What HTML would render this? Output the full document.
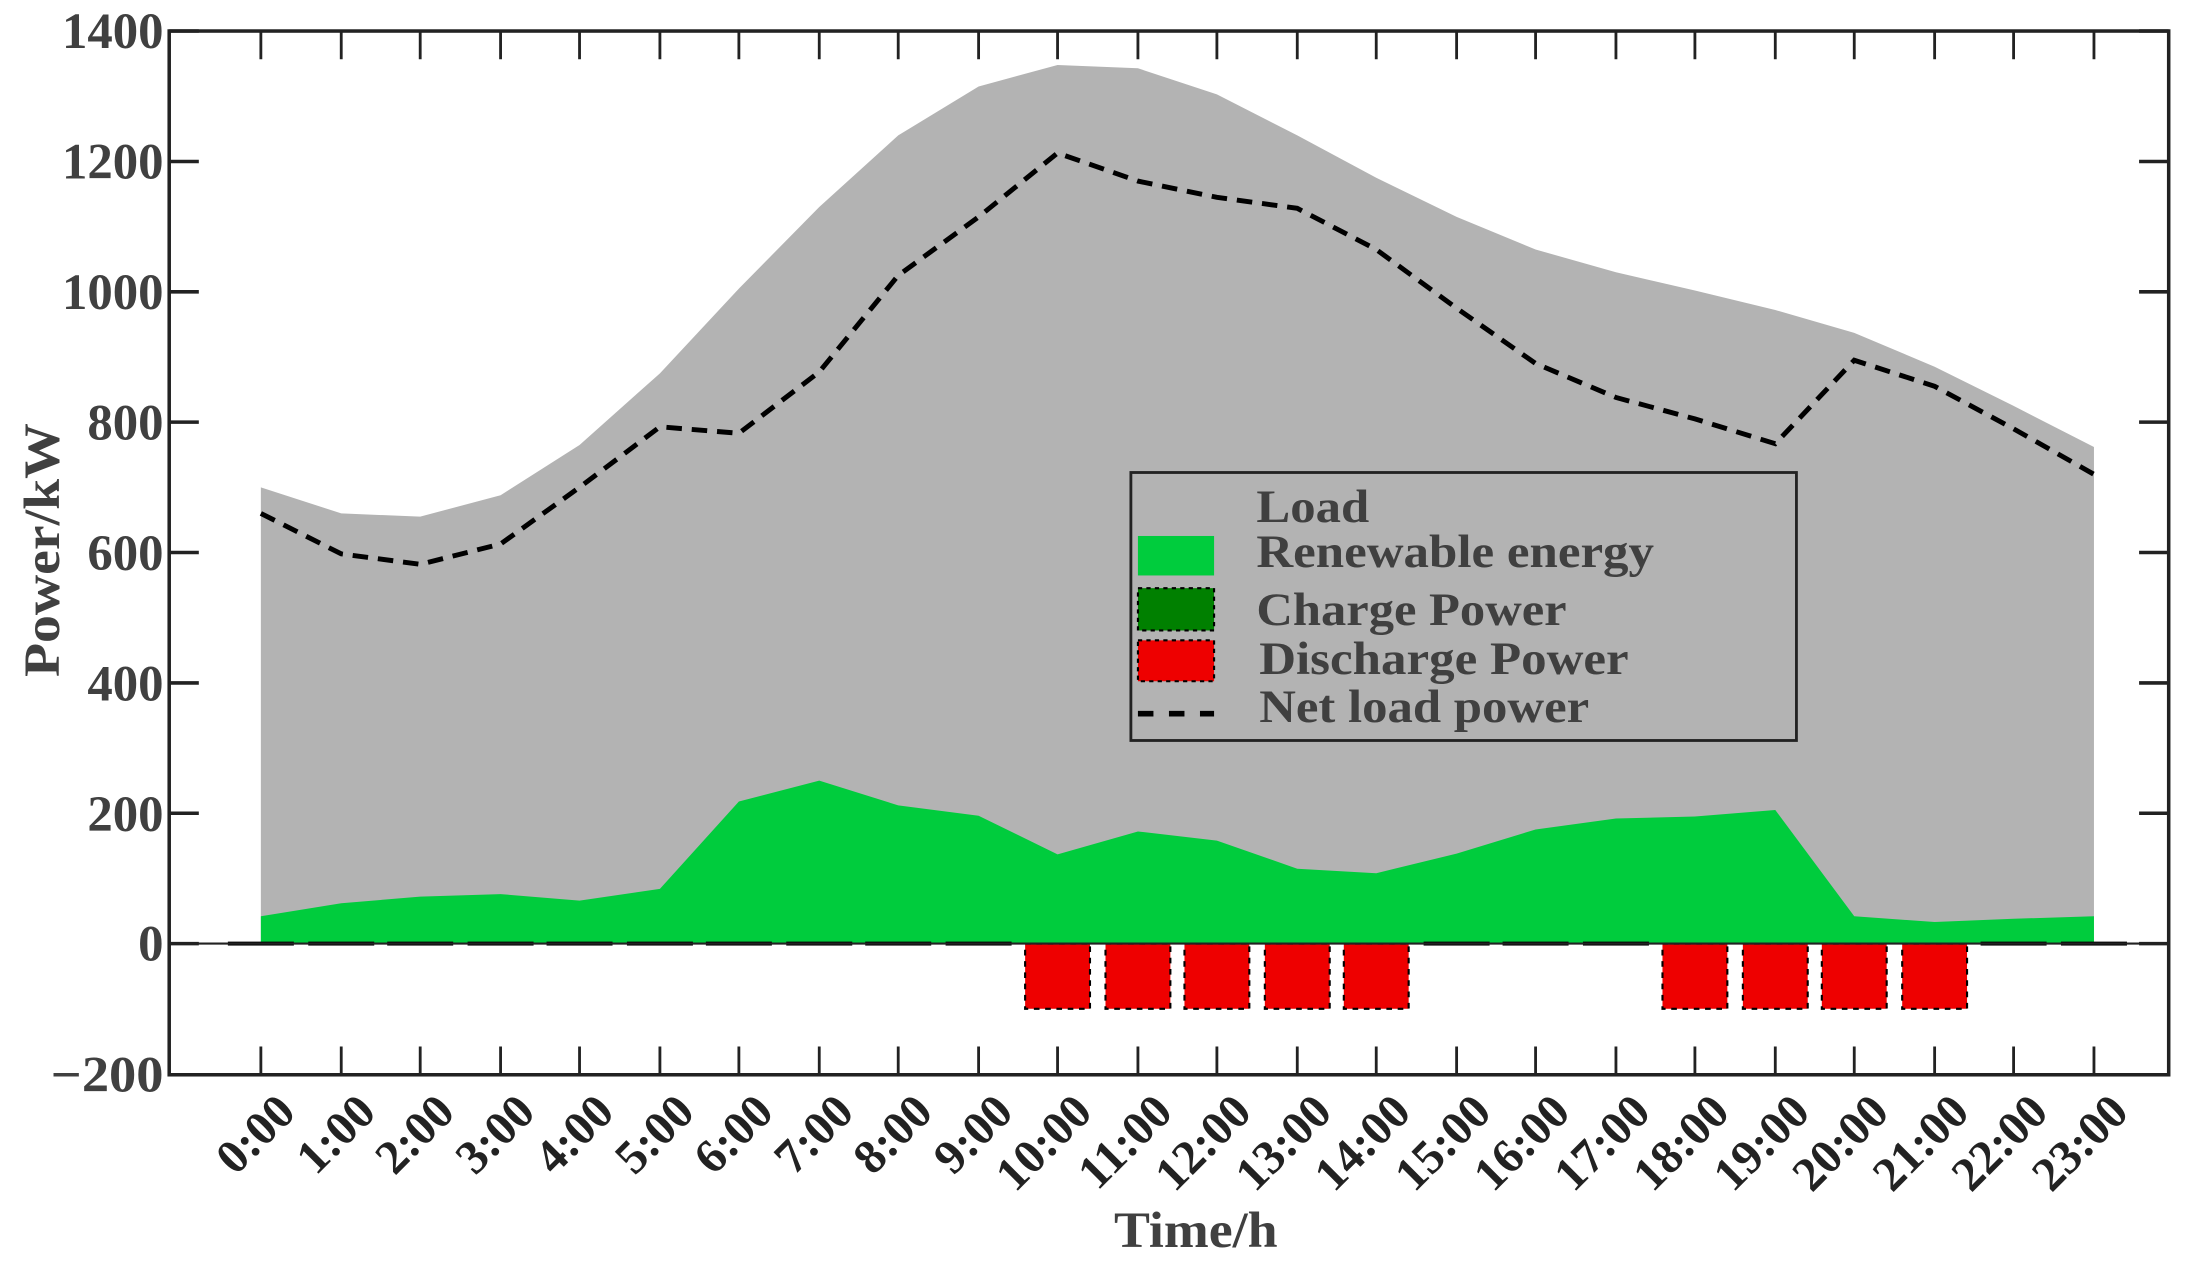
<!DOCTYPE html>
<html><head><meta charset="utf-8"><style>html,body{margin:0;padding:0;background:#fff}svg{display:block}</style></head>
<body>
<svg width="2211" height="1268" viewBox="0 0 1568 899" preserveAspectRatio="none" xmlns="http://www.w3.org/2000/svg" font-family="Liberation Serif, serif" font-weight="bold">
<rect width="1568" height="899" fill="#fff"/>
<polygon fill="#b3b3b3" points="185,669 185,345.5 242,364 298,366.3 355,351.1 411,315.5 468,264.7 524,204.6 581,146.8 637,96 694,61.3 750,46.1 807,48.4 863,66.9 920,96 976,126 1033,153.8 1089,176.9 1146,193 1202,206 1259,219.8 1315,236 1372,260 1428,287.8 1485,316.9 1485,669"/>
<polygon fill="#00cc3d" points="185,669 185,649.6 242,640.4 298,635.7 355,633.9 411,638.5 468,630.2 524,568.3 581,553.5 637,571 694,578.4 750,605.7 807,589.5 863,596 920,615.9 976,619.1 1033,605.2 1089,588.1 1146,580.3 1202,578.9 1259,574.3 1315,649.6 1372,653.7 1428,651.4 1485,649.6 1485,669"/>
<g fill="#008000" stroke="#000" stroke-width="0.8">
<rect x="162" y="668" width="46" height="2"/><rect x="219" y="668" width="46" height="2"/><rect x="275" y="668" width="46" height="2"/><rect x="332" y="668" width="46" height="2"/><rect x="388" y="668" width="46" height="2"/><rect x="445" y="668" width="46" height="2"/><rect x="501" y="668" width="46" height="2"/><rect x="558" y="668" width="46" height="2"/><rect x="614" y="668" width="46" height="2"/><rect x="671" y="668" width="46" height="2"/><rect x="1010" y="668" width="46" height="2"/><rect x="1066" y="668" width="46" height="2"/><rect x="1123" y="668" width="46" height="2"/><rect x="1405" y="668" width="46" height="2"/><rect x="1462" y="668" width="46" height="2"/>
</g>
<g fill="#ee0000" stroke="#000" stroke-width="1.5" stroke-dasharray="4 4">
<rect x="727" y="669" width="46" height="46.2"/><rect x="784" y="669" width="46" height="46.2"/><rect x="840" y="669" width="46" height="46.2"/><rect x="897" y="669" width="46" height="46.2"/><rect x="953" y="669" width="46" height="46.2"/><rect x="1179" y="669" width="46" height="46.2"/><rect x="1236" y="669" width="46" height="46.2"/><rect x="1292" y="669" width="46" height="46.2"/><rect x="1349" y="669" width="46" height="46.2"/>
</g>
<line x1="120" y1="669" x2="1538" y2="669" stroke="#222" stroke-width="1.5"/>
<polyline fill="none" stroke="#000" stroke-width="3.5" stroke-dasharray="11 7" points="185,364 242,392.7 298,400.1 355,385.7 411,345.5 468,302.6 524,307.2 581,263.7 637,195.3 694,153.8 750,108.5 807,128.4 863,139.9 920,147.7 976,176.9 1033,218.5 1089,257.7 1146,281.8 1202,297 1259,314.6 1315,255.4 1372,273.9 1428,304 1485,336.3"/>
<rect x="120" y="22" width="1418" height="740" fill="none" stroke="#222" stroke-width="2.5"/>
<g stroke="#222" stroke-width="2.5">
<path d="M120 762H141M120 669H141M120 576.6H141M120 484.2H141M120 391.7H141M120 299.3H141M120 206.9H141M120 114.5H141M120 22H141"/>
<path d="M1517 762H1538M1517 669H1538M1517 576.6H1538M1517 484.2H1538M1517 391.7H1538M1517 299.3H1538M1517 206.9H1538M1517 114.5H1538M1517 22H1538"/>
</g>
<g stroke="#222" stroke-width="2">
<path d="M185 762V742M242 762V742M298 762V742M355 762V742M411 762V742M468 762V742M524 762V742M581 762V742M637 762V742M694 762V742M750 762V742M807 762V742M863 762V742M920 762V742M976 762V742M1033 762V742M1089 762V742M1146 762V742M1202 762V742M1259 762V742M1315 762V742M1372 762V742M1428 762V742M1485 762V742"/>
<path d="M185 22V42M242 22V42M298 22V42M355 22V42M411 22V42M468 22V42M524 22V42M581 22V42M637 22V42M694 22V42M750 22V42M807 22V42M863 22V42M920 22V42M976 22V42M1033 22V42M1089 22V42M1146 22V42M1202 22V42M1259 22V42M1315 22V42M1372 22V42M1428 22V42M1485 22V42"/>
</g>
<g font-size="36" fill="#404040" text-anchor="end" lengthAdjust="spacingAndGlyphs">
<text x="116" y="774" textLength="80" lengthAdjust="spacingAndGlyphs">−200</text>
<text x="116" y="681" textLength="18" lengthAdjust="spacingAndGlyphs">0</text>
<text x="116" y="589" textLength="54" lengthAdjust="spacingAndGlyphs">200</text>
<text x="116" y="496.5" textLength="54" lengthAdjust="spacingAndGlyphs">400</text>
<text x="116" y="404" textLength="54" lengthAdjust="spacingAndGlyphs">600</text>
<text x="116" y="311.5" textLength="54" lengthAdjust="spacingAndGlyphs">800</text>
<text x="116" y="219" textLength="72" lengthAdjust="spacingAndGlyphs">1000</text>
<text x="116" y="126.5" textLength="72" lengthAdjust="spacingAndGlyphs">1200</text>
<text x="116" y="34" textLength="72" lengthAdjust="spacingAndGlyphs">1400</text>
</g>
<g font-size="34" fill="#222" text-anchor="end">
<text transform="translate(211,790) rotate(-45)">0:00</text>
<text transform="translate(268,790) rotate(-45)">1:00</text>
<text transform="translate(324,790) rotate(-45)">2:00</text>
<text transform="translate(381,790) rotate(-45)">3:00</text>
<text transform="translate(437,790) rotate(-45)">4:00</text>
<text transform="translate(494,790) rotate(-45)">5:00</text>
<text transform="translate(550,790) rotate(-45)">6:00</text>
<text transform="translate(607,790) rotate(-45)">7:00</text>
<text transform="translate(663,790) rotate(-45)">8:00</text>
<text transform="translate(720,790) rotate(-45)">9:00</text>
<text transform="translate(776,790) rotate(-45)">10:00</text>
<text transform="translate(833,790) rotate(-45)">11:00</text>
<text transform="translate(889,790) rotate(-45)">12:00</text>
<text transform="translate(946,790) rotate(-45)">13:00</text>
<text transform="translate(1002,790) rotate(-45)">14:00</text>
<text transform="translate(1059,790) rotate(-45)">15:00</text>
<text transform="translate(1115,790) rotate(-45)">16:00</text>
<text transform="translate(1172,790) rotate(-45)">17:00</text>
<text transform="translate(1228,790) rotate(-45)">18:00</text>
<text transform="translate(1285,790) rotate(-45)">19:00</text>
<text transform="translate(1341,790) rotate(-45)">20:00</text>
<text transform="translate(1398,790) rotate(-45)">21:00</text>
<text transform="translate(1454,790) rotate(-45)">22:00</text>
<text transform="translate(1511,790) rotate(-45)">23:00</text>
</g>
<text x="848" y="884" text-anchor="middle" font-size="36" fill="#404040" textLength="116" lengthAdjust="spacingAndGlyphs">Time/h</text>
<text transform="translate(42,390) rotate(-90)" text-anchor="middle" font-size="36" fill="#404040" textLength="180" lengthAdjust="spacingAndGlyphs">Power/kW</text>
<rect x="802" y="335" width="472" height="190" fill="none" stroke="#222" stroke-width="2"/>
<rect x="807" y="380" width="54" height="28" fill="#00cc3d"/>
<rect x="807" y="417" width="54" height="30" fill="#008000" stroke="#000" stroke-width="1.5" stroke-dasharray="3 3"/>
<rect x="807" y="454" width="54" height="29" fill="#ee0000" stroke="#000" stroke-width="1.5" stroke-dasharray="3 3"/>
<line x1="807" y1="506" x2="861" y2="506" stroke="#000" stroke-width="4" stroke-dasharray="11 11"/>
<g font-size="33" fill="#404040">
<text x="891" y="370" textLength="80" lengthAdjust="spacingAndGlyphs">Load</text>
<text x="891" y="402" textLength="282" lengthAdjust="spacingAndGlyphs">Renewable energy</text>
<text x="891" y="443" textLength="220" lengthAdjust="spacingAndGlyphs">Charge Power</text>
<text x="893" y="478" textLength="262" lengthAdjust="spacingAndGlyphs">Discharge Power</text>
<text x="893" y="512" textLength="234" lengthAdjust="spacingAndGlyphs">Net load power</text>
</g>
</svg>
</body></html>
